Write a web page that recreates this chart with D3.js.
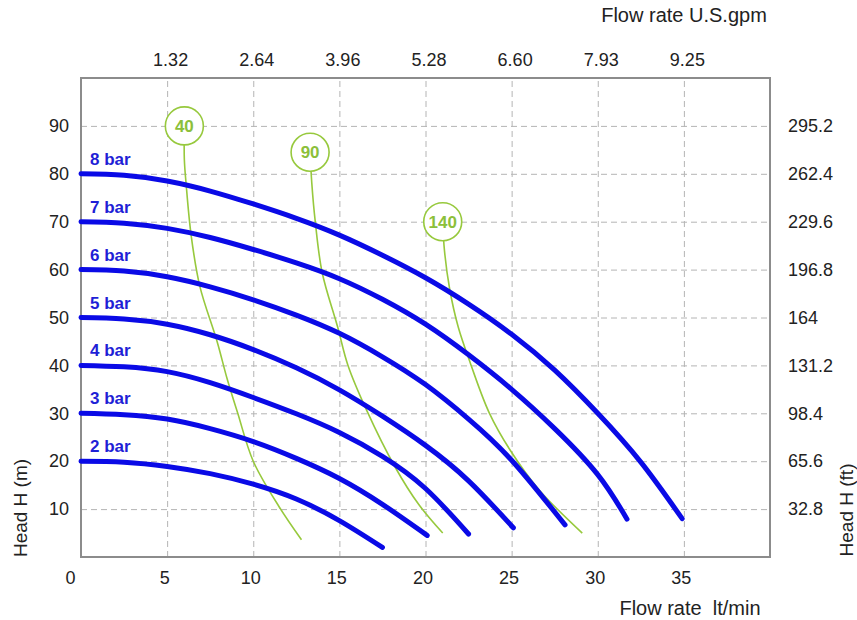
<!DOCTYPE html>
<html>
<head>
<meta charset="utf-8">
<script src="https://cdn.jsdelivr.net/npm/d3@7"></script>
<style>
body { margin: 0; background: #fff; }
text { font-family: "Liberation Sans", Arial, sans-serif; }
</style>
</head>
<body>
<div id="container"></div>
<script>
// axis ticks
const flowTicks = [0, 5, 10, 15, 20, 25, 30, 35];
const gpmTicks = [5, 10, 15, 20, 25, 30, 35];
const gpmLabels = ["1.32", "2.64", "3.96", "5.28", "6.60", "7.93", "9.25"];
const headTicks = [10, 20, 30, 40, 50, 60, 70, 80, 90];
const ftLabels = ["32.8", "65.6", "98.4", "131.2", "164", "196.8", "229.6", "262.4", "295.2"];

// pump curves [flow lt/min, head m]
const barNames = ["2 bar", "3 bar", "4 bar", "5 bar", "6 bar", "7 bar", "8 bar"];
const bar2 = [[0,20],[2.5,19.8],[5,18.9],[7.5,17.4],[10,15.2],[12.5,12.1],[15,7.6],[17.5,2]];
const bar3 = [[0,30],[2.5,29.7],[5,28.8],[7.5,26.8],[10,24.1],[12.5,20.6],[15,16.4],[17.5,11],[20.1,4.5]];
const bar4 = [[0,40],[2.5,39.7],[5,38.7],[7.5,36.4],[10,33.3],[12.5,29.9],[15,26],[17.5,21],[20,14.3],[22.5,4.8]];
const bar5 = [[0,50],[2.5,49.7],[5,48.6],[7.5,46.4],[10,43.3],[12.5,39.5],[15,34.9],[17.5,29.4],[20,23.3],[22.5,15.9],[25.1,6.1]];
const bar6 = [[0,60],[2.5,59.7],[5,58.5],[7.5,56.4],[10,53.7],[12.5,50.5],[15,46.7],[17.5,41.8],[20,36],[22.5,28.8],[25,20.2],[28.1,6.7]];
const bar7 = [[0,70],[2.5,69.7],[5,68.6],[7.5,66.7],[10,64.2],[12.5,61.4],[15,58.1],[17.5,53.8],[20,48.6],[22.5,42.2],[25,35],[27.5,26.8],[30,17.2],[31.7,7.9]];
const bar8 = [[0,80],[2.5,79.7],[5,78.5],[7.5,76.4],[10,73.7],[12.5,70.7],[15,67.2],[17.5,63],[20,58.3],[22.5,52.8],[25,46.5],[27.5,39],[30,30],[32.5,19.8],[34.9,8]];

// air consumption lines (first point = label circle)
const airNames = ["40", "90", "140"];
const air40 = [[6.0,90],[6.0,83],[6.1,78],[6.4,67],[6.9,56.5],[7.9,45],[8.5,37],[9.1,30],[10,20],[11.5,10.5],[12.8,3.6]];
const air90 = [[13.3,84.5],[13.4,78],[13.6,70],[14.0,59.4],[14.9,48],[15.5,40],[16.6,30.5],[18.2,19],[19.6,11],[21,5]];
const air140 = [[21.0,70],[21.1,64],[21.4,56],[21.9,48],[22.6,40.5],[23.7,30.1],[24.9,22.4],[26.6,14],[29.1,5]];

function main() {
    const width = 857, height = 620;
    const svg = d3.select("#container")
        .append("svg")
        .attr("width", width)
        .attr("height", height);

    const x = d3.scaleLinear().domain([0, 40]).range([81, 770]);
    const y = d3.scaleLinear().domain([0, 100]).range([557, 78]);

    // grid
    svg.append("g")
        .attr("transform", `translate(0,${y(0)})`)
        .call(d3.axisBottom(x).tickValues(flowTicks.slice(1)).tickSize(y(100) - y(0)).tickFormat(""))
        .call(g => g.select(".domain").remove())
        .selectAll("line")
        .attr("stroke", "#b4b4b4")
        .attr("stroke-dasharray", "6,4");
    svg.append("g")
        .attr("transform", `translate(${x(0)},0)`)
        .call(d3.axisLeft(y).tickValues(headTicks).tickSize(x(0) - x(40)).tickFormat(""))
        .call(g => g.select(".domain").remove())
        .selectAll("line")
        .attr("stroke", "#b4b4b4")
        .attr("stroke-dasharray", "6,4");

    // frame
    svg.append("rect")
        .attr("x", x(0))
        .attr("y", y(100))
        .attr("width", x(40) - x(0))
        .attr("height", y(0) - y(100))
        .attr("fill", "none")
        .attr("stroke", "#8c8c8c")
        .attr("stroke-width", 2);

    // tick labels
    const styleAxis = g => {
        g.select(".domain").remove();
        g.selectAll("line").remove();
        g.selectAll("text").attr("font-size", 18).attr("fill", "#222")
            .attr("font-family", "Liberation Sans, Arial, sans-serif");
    };
    svg.append("g")
        .attr("transform", `translate(0,${y(0)})`)
        .call(d3.axisBottom(x).tickValues(flowTicks).tickSize(0).tickPadding(14))
        .call(styleAxis)
        .selectAll("text")
        .attr("dx", d => d == 0 ? -11 : -3);
    svg.append("g")
        .attr("transform", `translate(0,${y(100)})`)
        .call(d3.axisTop(x).tickValues(gpmTicks).tickSize(0).tickPadding(12)
            .tickFormat((d, i) => gpmLabels[i]))
        .call(styleAxis)
        .selectAll("text").attr("dx", 3);
    svg.append("g")
        .attr("transform", `translate(${x(0)},0)`)
        .call(d3.axisLeft(y).tickValues(headTicks).tickSize(0).tickPadding(12))
        .call(styleAxis);
    svg.append("g")
        .attr("transform", `translate(${x(40)},0)`)
        .call(d3.axisRight(y).tickValues(headTicks).tickSize(0).tickPadding(18)
            .tickFormat((d, i) => ftLabels[i]))
        .call(styleAxis);

    // axis titles
    svg.append("text")
        .attr("x", 684).attr("y", 22)
        .attr("text-anchor", "middle")
        .attr("font-size", 20).attr("fill", "#222")
        .text("Flow rate U.S.gpm");
    svg.append("text")
        .attr("x", 690).attr("y", 615)
        .attr("text-anchor", "middle")
        .attr("font-size", 20).attr("fill", "#222")
        .attr("xml:space", "preserve")
        .text("Flow rate  lt/min");
    svg.append("text")
        .attr("transform", "translate(20,508) rotate(-90)")
        .attr("text-anchor", "middle")
        .attr("dy", "0.35em")
        .attr("font-size", 19).attr("fill", "#222")
        .text("Head H (m)");
    svg.append("text")
        .attr("transform", "translate(846,510) rotate(-90)")
        .attr("text-anchor", "middle")
        .attr("dy", "0.35em")
        .attr("font-size", 19).attr("fill", "#222")
        .text("Head H (ft)");

    const line = d3.line()
        .x(d => x(d[0]))
        .y(d => y(d[1]))
        .curve(d3.curveNatural);
    const airLine = d3.line()
        .x(d => x(d[0]))
        .y(d => y(d[1]))
        .curve(d3.curveCatmullRom.alpha(0.5));

    // air lines (behind pump curves)
    const airData = [air40, air90, air140];
    svg.append("g")
        .selectAll("path")
        .data(airData)
        .join("path")
        .attr("d", airLine)
        .attr("fill", "none")
        .attr("stroke", "#97c93d")
        .attr("stroke-width", 1.6);

    // pump curves
    const barData = [bar2, bar3, bar4, bar5, bar6, bar7, bar8];
    svg.append("g")
        .selectAll("path")
        .data(barData)
        .join("path")
        .attr("d", line)
        .attr("fill", "none")
        .attr("stroke", "#0a0ae6")
        .attr("stroke-width", 5)
        .attr("stroke-linecap", "round");
    svg.append("g")
        .selectAll("text")
        .data(barData)
        .join("text")
        .attr("x", x(0) + 9)
        .attr("y", d => y(d[0][1]) - 9)
        .attr("font-size", 17)
        .attr("font-weight", "bold")
        .attr("fill", "#1f1fd6")
        .text((d, i) => barNames[i]);

    // air labels
    const lab = svg.append("g")
        .selectAll("g")
        .data(airData)
        .join("g")
        .attr("transform", d => `translate(${x(d[0][0])},${y(d[0][1])})`);
    lab.append("circle")
        .attr("r", 19)
        .attr("fill", "#fff")
        .attr("stroke", "#97c93d")
        .attr("stroke-width", 1.6);
    lab.append("text")
        .attr("text-anchor", "middle")
        .attr("dy", "0.36em")
        .attr("font-size", 17)
        .attr("font-weight", "bold")
        .attr("fill", "#8cc03a")
        .text((d, i) => airNames[i]);
}
main();
</script>
</body>
</html>
